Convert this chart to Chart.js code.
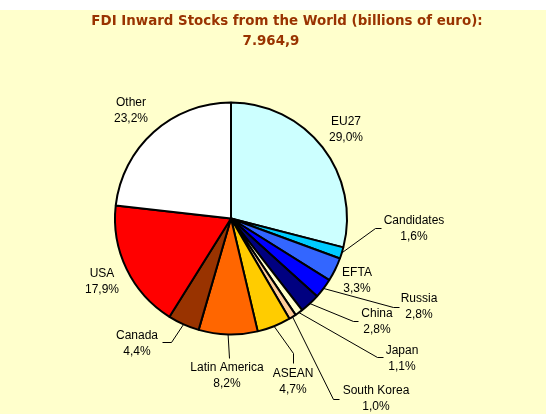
<!DOCTYPE html>
<html>
<head>
<meta charset="utf-8">
<script src="https://cdn.jsdelivr.net/npm/chart.js@4"></script>
<style>
  html, body { margin: 0; padding: 0; background: #fff; }
  canvas { display: block; }
</style>
</head>
<body>
<canvas id="myChart" width="546" height="414"></canvas>
<script>
// data (shares of total stocks, %)
var categories = ['EU27', 'Candidates', 'EFTA', 'Russia', 'China', 'Japan',
                  'South Korea', 'ASEAN', 'Latin America', 'Canada', 'USA', 'Other'];
var shares = [29.0, 1.6, 3.3, 2.8, 2.8, 1.1, 1.0, 4.7, 8.2, 4.4, 17.9, 23.2];
var titleLines = ['FDI Inward Stocks from the World (billions of euro):', '7.964,9'];

var sliceColors = ['#CCFFFF', '#00CCFF', '#3366FF', '#0000FF', '#000080', '#FFFFCC',
                   '#FFCC99', '#FFCC00', '#FF6600', '#993300', '#FF0000', '#FFFFFF'];

// label placement (centre of first text line) and leader line bends
var labelPos = [[346, 121], [414, 220], [357, 272], [419, 298], [377, 313], [402, 350],
                [376, 390], [293, 373], [227, 367], [137, 335], [102, 273], [131, 102]];
var leaders = [
    null,
    [[375, 228], [381, 228]],
    null,
    [[393, 307], [399, 307]],
    [[353, 321], [358, 321]],
    [[377, 357], [383, 357]],
    [[333, 399], [339, 399]],
    [[293, 353], [293, 363]],
    [[229, 358]],
    [[171, 342], [162, 342]],
    null,
    null
];

function pct(v) {
    return v.toFixed(1).replace('.', ',') + '%';
}

var backdrop = {
    id: 'backdrop',
    beforeDraw: function(chart) {
        var c = chart.ctx;
        c.save();
        c.fillStyle = '#FFFFFF';
        c.fillRect(0, 0, chart.width, chart.height);
        c.fillStyle = '#FFFFCC';
        c.fillRect(0, 10, chart.width, chart.height - 10);
        c.restore();
    }
};

var pieLabels = {
    id: 'pieLabels',
    afterDraw: function(chart) {
        var c = chart.ctx;
        var arcs = chart.getDatasetMeta(0).data;
        c.save();
        // title
        c.fillStyle = '#993300';
        c.font = 'bold 13.4px "DejaVu Sans"';
        c.textAlign = 'center';
        c.textBaseline = 'alphabetic';
        c.fillText(titleLines[0], 287, 25);
        c.fillText(titleLines[1], 271, 45);

        // leader lines
        c.strokeStyle = '#000';
        c.lineWidth = 1;
        arcs.forEach(function(arc, i) {
            if (!leaders[i]) return;
            var mid = (arc.startAngle + arc.endAngle) / 2;
            c.beginPath();
            c.moveTo(arc.x + Math.cos(mid) * arc.outerRadius, arc.y + Math.sin(mid) * arc.outerRadius);
            leaders[i].forEach(function(p) { c.lineTo(p[0] + 0.5, p[1] + 0.5); });
            c.stroke();
        });

        // labels
        c.fillStyle = '#000';
        c.font = '12px "Liberation Sans", Arial';
        categories.forEach(function(name, i) {
            var p = labelPos[i];
            c.fillText(name, p[0], p[1] + 4);
            c.fillText(pct(shares[i]), p[0], p[1] + 20);
        });
        c.restore();
    }
};

var ctx = document.getElementById('myChart').getContext('2d');
var chart = new Chart(ctx, {
    type: 'pie',
    data: {
        labels: categories,
        datasets: [{
            data: shares,
            backgroundColor: sliceColors,
            borderColor: '#000',
            borderWidth: 2
        }]
    },
    options: {
        responsive: false,
        animation: false,
        devicePixelRatio: 1,
        radius: 116,
        layout: { padding: { left: 0, right: 84, top: 23, bottom: 0 } },
        plugins: {
            legend: { display: false },
            tooltip: { enabled: false }
        }
    },
    plugins: [backdrop, pieLabels]
});
</script>
</body>
</html>
